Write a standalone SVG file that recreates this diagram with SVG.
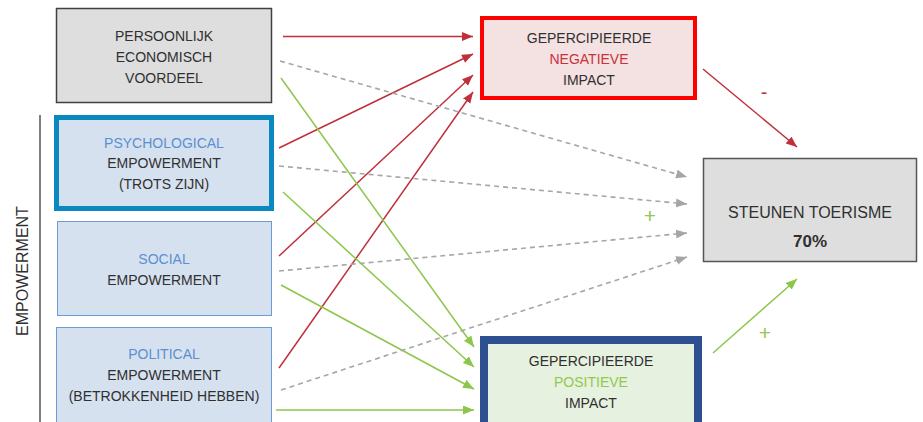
<svg xmlns="http://www.w3.org/2000/svg" width="923" height="422" viewBox="0 0 923 422">
<style>
text{font-family:"Liberation Sans",Arial,sans-serif;font-size:14px;fill:#303030;text-anchor:middle;dominant-baseline:central}
.blue{fill:#5b8fd0}.red{fill:#c8323c}.green{fill:#92c84e}
.r{stroke:#c0303a;stroke-width:1.5;fill:none;marker-end:url(#mr)}
.g{stroke:#8cc64a;stroke-width:1.5;fill:none;marker-end:url(#mg)}
.d{stroke:#a6a6a6;stroke-width:1.6;fill:none;stroke-dasharray:5 4;marker-end:url(#md)}
.lb{fill:#d6e1ef}
</style>
<defs>
<marker id="mr" markerUnits="userSpaceOnUse" markerWidth="12" markerHeight="10" refX="11" refY="4.5" orient="auto"><path d="M0,0 L11,4.5 L0,9 z" fill="#c0303a"/></marker>
<marker id="mg" markerUnits="userSpaceOnUse" markerWidth="12" markerHeight="10" refX="11" refY="4.5" orient="auto"><path d="M0,0 L11,4.5 L0,9 z" fill="#8cc64a"/></marker>
<marker id="md" markerUnits="userSpaceOnUse" markerWidth="12" markerHeight="10" refX="11" refY="4.5" orient="auto"><path d="M0,0 L11,4.5 L0,9 z" fill="#a6a6a6"/></marker>
</defs>
<rect width="923" height="422" fill="#ffffff"/>
<g id="empowerment-label">
<line x1="40" y1="115" x2="40" y2="422" stroke="#555" stroke-width="1.5"/>
<text x="22" y="271" transform="rotate(-90 22 271)" style="font-size:16px" fill="#222">EMPOWERMENT</text>
</g>
<g id="n-persoonlijk">
<rect x="56.5" y="8.5" width="215" height="94" fill="#dedede" stroke="#404040" stroke-width="1.5"/>
<text x="164" y="36">PERSOONLIJK</text><text x="164" y="57">ECONOMISCH</text><text x="164" y="78">VOORDEEL</text>
</g>
<g id="n-psychological">
<rect x="56.5" y="117.5" width="215" height="91" class="lb" stroke="#0a88c0" stroke-width="5"/>
<text x="164" y="143" class="blue">PSYCHOLOGICAL</text><text x="164" y="163">EMPOWERMENT</text><text x="164" y="184">(TROTS ZIJN)</text>
</g>
<g id="n-social">
<rect x="57.5" y="221.5" width="214" height="94" class="lb" stroke="#6d9bd4" stroke-width="1"/>
<text x="164" y="259" class="blue">SOCIAL</text><text x="164" y="280">EMPOWERMENT</text>
</g>
<g id="n-political">
<rect x="56.5" y="327.5" width="215" height="100" class="lb" stroke="#6d9bd4" stroke-width="1"/>
<text x="164" y="354" class="blue">POLITICAL</text><text x="164" y="375">EMPOWERMENT</text><text x="164" y="396">(BETROKKENHEID HEBBEN)</text>
</g>
<g id="n-negatief">
<rect x="482" y="18" width="213" height="80" fill="#f4e1e1" stroke="#ff0000" stroke-width="4"/>
<text x="589" y="38">GEPERCIPIEERDE</text><text x="589" y="59" class="red">NEGATIEVE</text><text x="589" y="80">IMPACT</text>
</g>
<g id="n-positief">
<rect x="484" y="340" width="214" height="90" fill="#e6f1df" stroke="#2f5090" stroke-width="8"/>
<text x="591" y="361">GEPERCIPIEERDE</text><text x="591" y="382" class="green">POSITIEVE</text><text x="591" y="403">IMPACT</text>
</g>
<g id="n-steunen">
<rect x="703.5" y="158.5" width="213" height="103" fill="#dedede" stroke="#555" stroke-width="1.5"/>
<text x="810" y="212" style="font-size:16px" fill="#222">STEUNEN TOERISME</text>
<text x="810" y="241" style="font-size:17px;font-weight:bold" fill="#111">70%</text>
</g>
<g id="connectors">
<line class="r" x1="283" y1="36.5" x2="473" y2="36.5"/>
<line class="r" x1="279" y1="148" x2="473" y2="54"/>
<line class="r" x1="279" y1="256" x2="473" y2="75"/>
<line class="r" x1="279" y1="368" x2="473" y2="92"/>
<line class="r" x1="703" y1="69" x2="797" y2="147"/>
<line class="g" x1="281" y1="78" x2="474" y2="347"/>
<line class="g" x1="283" y1="192" x2="474" y2="367"/>
<line class="g" x1="281" y1="285" x2="474" y2="389"/>
<line class="g" x1="276" y1="410" x2="474" y2="410"/>
<line class="g" x1="713" y1="353" x2="797" y2="279"/>
<line class="d" x1="280" y1="61" x2="687" y2="177"/>
<line class="d" x1="279" y1="166" x2="687" y2="204"/>
<line class="d" x1="279" y1="271" x2="687" y2="233"/>
<line class="d" x1="281" y1="390" x2="687" y2="257"/>
<text x="650" y="215" class="green" style="font-size:21px">+</text>
<text x="765" y="332" class="green" style="font-size:21px">+</text>
<text x="764" y="92" class="red" style="font-size:20px">-</text>
</g>
</svg>
